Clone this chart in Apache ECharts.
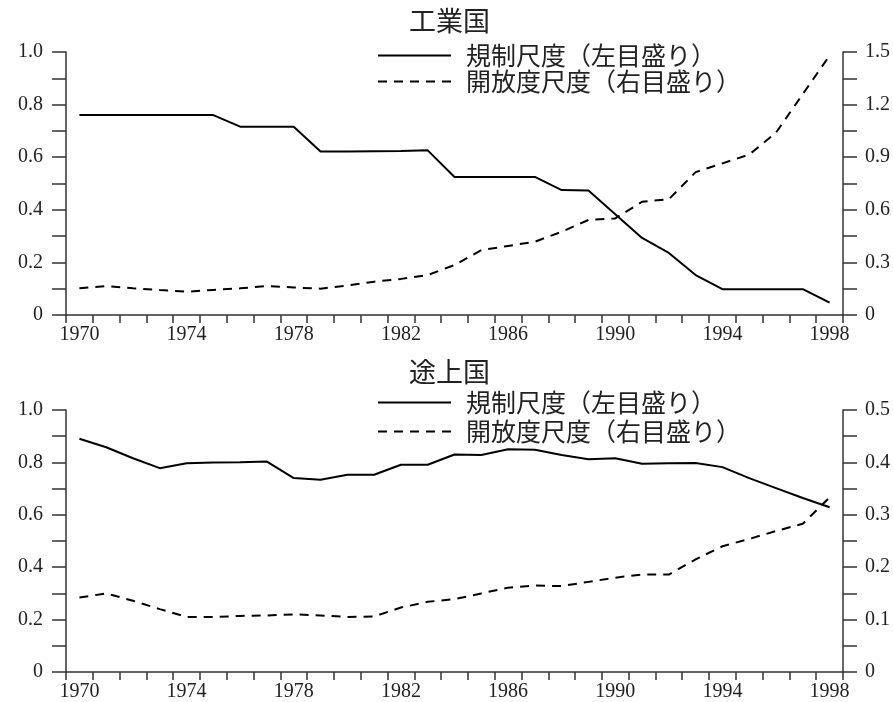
<!DOCTYPE html>
<html><head><meta charset="utf-8">
<script src="https://cdn.jsdelivr.net/npm/echarts@6/dist/echarts.min.js"></script>
<style>html,body{margin:0;padding:0;background:#fff}#c{width:893px;height:702px}</style>
</head><body><div id="c"></div>
<script>
const years = ['1970','1971','1972','1973','1974','1975','1976','1977','1978','1979',
  '1980','1981','1982','1983','1984','1985','1986','1987','1988','1989',
  '1990','1991','1992','1993','1994','1995','1996','1997','1998'];
// 工業国
const indRegulation = [0.760,0.760,0.760,0.760,0.760,0.760,0.716,0.716,0.716,0.622,
  0.622,0.623,0.624,0.626,0.525,0.525,0.525,0.525,0.475,0.473,
  0.383,0.293,0.236,0.152,0.098,0.098,0.098,0.098,0.047];
const indOpenness = [0.152,0.165,0.152,0.142,0.133,0.143,0.152,0.165,0.157,0.150,
  0.168,0.190,0.206,0.228,0.285,0.370,0.394,0.418,0.475,0.542,
  0.551,0.646,0.660,0.815,0.865,0.915,1.040,1.260,1.480];
// 途上国
const devRegulation = [0.890,0.858,0.816,0.778,0.797,0.800,0.801,0.803,0.740,0.734,
  0.753,0.753,0.791,0.791,0.830,0.828,0.850,0.848,0.828,0.812,
  0.816,0.795,0.797,0.798,0.782,0.740,0.702,0.664,0.629];
const devOpenness = [0.142,0.150,0.136,0.120,0.105,0.105,0.107,0.108,0.110,0.108,
  0.105,0.106,0.123,0.134,0.139,0.150,0.161,0.165,0.164,0.172,
  0.180,0.186,0.186,0.215,0.240,0.254,0.269,0.283,0.333];
const titles = ['工業国','途上国'];
const legendNames = ['規制尺度（左目盛り）','開放度尺度（右目盛り）'];
const leftMax = [1.0, 1.0], leftStep = [0.1, 0.1];
const rightMax = [1.5, 0.5], rightStep = [0.15, 0.05];

const ink = '#000', axisInk = '#333';
const serif = 'Liberation Serif';
const cjk = 'Noto Sans CJK JP';
const gridTops = [52, 410];

function fmt(step){
  return function(v){
    const k = Math.round(v/step);
    if (k % 2) return '';
    const val = k*step;
    return k === 0 ? '0' : val.toFixed(1);
  };
}
function yAxis(gi, pos, max, step, margin){
  return {
    type:'value', gridIndex:gi, position:pos, min:0, max:max, interval:step,
    axisLine:{show:true, lineStyle:{color:axisInk, width:1.5}},
    axisTick:{show:true, length:14, lineStyle:{color:axisInk, width:1.5}},
    axisLabel:{formatter:fmt(step), color:'#222', fontFamily:serif, fontSize:20, margin:margin},
    splitLine:{show:false}
  };
}
function xAxis(gi){
  return {
    type:'category', gridIndex:gi, data:years, boundaryGap:true,
    axisLine:{show:true, onZero:false, lineStyle:{color:axisInk, width:1.5}},
    axisTick:{show:true, interval:0, length:8, alignWithLabel:false, lineStyle:{color:axisInk, width:1.5}},
    axisLabel:{interval:3, color:'#222', fontFamily:serif, fontSize:20, margin:10},
    splitLine:{show:false}
  };
}
function lineSeries(name, data, xi, yi, dashed){
  return {
    type:'line', name:name, data:data, xAxisIndex:xi, yAxisIndex:yi,
    symbol:'none', smooth:false, animation:false,
    lineStyle:{color:ink, width:2, type: dashed ? [9,7] : 'solid'},
    itemStyle:{color:ink}
  };
}
const chart = echarts.init(document.getElementById('c'), null, {renderer:'canvas'});
chart.setOption({
  backgroundColor:'#fff',
  animation:false,
  title: titles.map((t,i)=>({
    text:t, left:409, top: i===0 ? 7 : 358, padding:0,
    textStyle:{fontFamily:cjk, fontSize:27, fontWeight:'normal', color:'#222'}
  })),
  legend: [
    {top:43, itemGap:1},
    {top:390, itemGap:4}
  ].map(o=>({
    data:legendNames, orient:'vertical', left:377, top:o.top, itemGap:o.itemGap,
    itemWidth:73, itemHeight:14, selectedMode:false, padding:0,
    itemStyle:{color:'rgba(0,0,0,0)', borderColor:'rgba(0,0,0,0)', borderWidth:0},
    lineStyle:{color:ink, width:2},
    textStyle:{fontFamily:cjk, fontSize:25, color:'#222', padding:[0,0,0,10]}
  })),
  grid: gridTops.map(t=>({left:66, right:50, top:t, height:263, containLabel:false})),
  xAxis:[xAxis(0), xAxis(1)],
  yAxis:[
    yAxis(0,'left',leftMax[0],leftStep[0],23),
    yAxis(0,'right',rightMax[0],rightStep[0],22),
    yAxis(1,'left',leftMax[1],leftStep[1],23),
    yAxis(1,'right',rightMax[1],rightStep[1],22)
  ],
  series:[
    lineSeries(legendNames[0], indRegulation, 0, 0, false),
    lineSeries(legendNames[1], indOpenness, 0, 1, true),
    lineSeries(legendNames[0], devRegulation, 1, 2, false),
    lineSeries(legendNames[1], devOpenness, 1, 3, true)
  ]
});
</script></body></html>
